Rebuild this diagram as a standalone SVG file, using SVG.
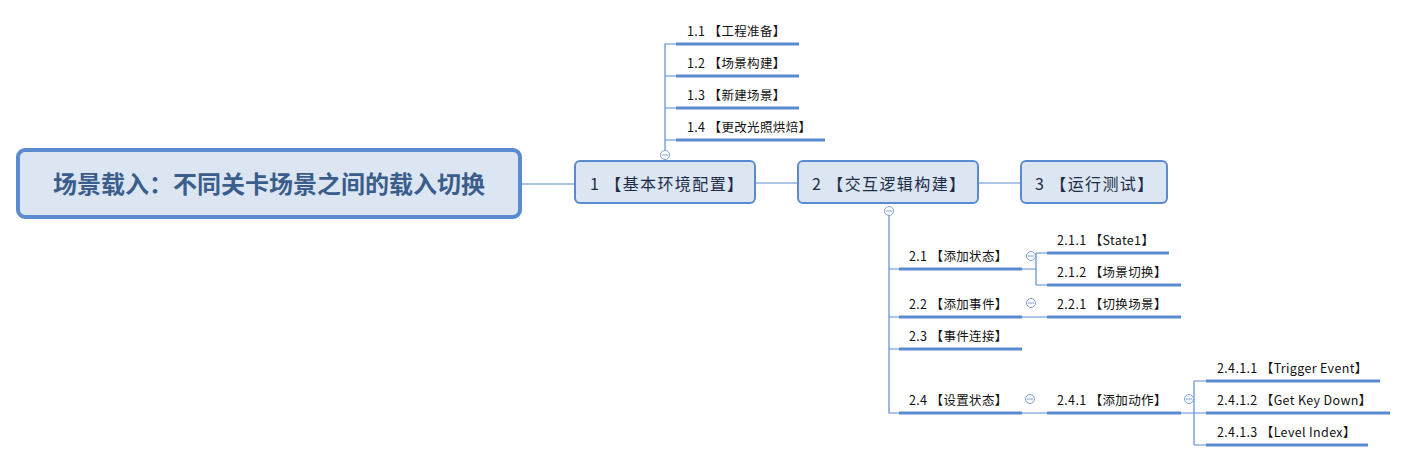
<svg xmlns="http://www.w3.org/2000/svg" width="1405" height="462" viewBox="0 0 1405 462">
<style>
.bg{fill:#ffffff}
.root{fill:#dce6f2;stroke:#5a8bd0;stroke-width:4}
.main{fill:#dce6f2;stroke:#5a8bd0;stroke-width:2}
.rt{font-family:"Noto Sans CJK SC","Microsoft YaHei",sans-serif;font-size:24px;font-weight:bold;fill:#3a5d8c}
.mt{font-family:"Noto Sans CJK SC",sans-serif;font-size:16px;fill:#1e2c48;letter-spacing:1.4px}
.st{font-family:"Noto Sans CJK SC",sans-serif;font-size:12.5px;fill:#111111;letter-spacing:0.35px}
.ln{fill:none;stroke:#5a8bd0;stroke-width:1.2}
.ul{fill:none;stroke:#5a8bd0;stroke-width:3}
.col{fill:#ffffff;stroke:#7aa0da;stroke-width:1}
.colm{stroke:#7aa0da;stroke-width:1}
</style>
<rect class="bg" x="0" y="0" width="1405" height="462"/>
<g id="connectors">
<path class="ln" d="M521 184H575M755 183H798M978 183H1021"/>
<path class="ln" d="M665 150V44H676M665 76H676M665 108H676M665 140H676"/>
<path class="ln" d="M889 216V413H899M889 269H899M889 317H899M889 349H899"/>
<path class="ln" d="M1022 269H1036M1036 253V285M1036 253H1047M1036 285H1047"/>
<path class="ln" d="M1022 317H1047M1022 413H1047"/>
<path class="ln" d="M1181 413H1194M1194 381V445M1194 381H1206M1194 445H1206M1194 413H1206"/>
</g>
<g id="root">
<rect class="root" x="18" y="150" width="502" height="67" rx="7"/>
<text class="rt" x="269" y="193" text-anchor="middle">场景载入：不同关卡场景之间的载入切换</text>
</g>
<g id="n1">
<rect class="main" x="575" y="161" width="180" height="42" rx="5"/>
<text class="mt" x="590" y="190">1 【基本环境配置】</text>
<circle class="col" cx="665" cy="155" r="4.5"/><path class="colm" d="M662 155H668"/>
</g>
<g id="n2">
<rect class="main" x="798" y="161" width="180" height="42" rx="5"/>
<text class="mt" x="812" y="190">2 【交互逻辑构建】</text>
<circle class="col" cx="889" cy="211" r="4.5"/><path class="colm" d="M886 211H892"/>
</g>
<g id="n3">
<rect class="main" x="1021" y="161" width="146" height="42" rx="5"/>
<text class="mt" x="1035" y="190">3 【运行测试】</text>
</g>
<g id="n1-1"><path class="ul" d="M676 44H799"/><text class="st" x="687" y="36">1.1 【工程准备】</text></g>
<g id="n1-2"><path class="ul" d="M676 76H799"/><text class="st" x="687" y="68">1.2 【场景构建】</text></g>
<g id="n1-3"><path class="ul" d="M676 108H799"/><text class="st" x="687" y="100">1.3 【新建场景】</text></g>
<g id="n1-4"><path class="ul" d="M676 140H825"/><text class="st" x="687" y="132">1.4 【更改光照烘焙】</text></g>
<g id="n2-1"><path class="ul" d="M899 269H1022"/><text class="st" x="909" y="261">2.1 【添加状态】</text>
<circle class="col" cx="1031" cy="256" r="4.5"/><path class="colm" d="M1028 256H1034"/></g>
<g id="n2-1-1"><path class="ul" d="M1047 253H1169"/><text class="st" x="1057" y="245">2.1.1 【State1】</text></g>
<g id="n2-1-2"><path class="ul" d="M1047 285H1181"/><text class="st" x="1057" y="277">2.1.2 【场景切换】</text></g>
<g id="n2-2"><path class="ul" d="M899 317H1022"/><text class="st" x="909" y="309">2.2 【添加事件】</text>
<circle class="col" cx="1031" cy="303" r="4.5"/><path class="colm" d="M1028 303H1034"/></g>
<g id="n2-2-1"><path class="ul" d="M1047 317H1181"/><text class="st" x="1057" y="309">2.2.1 【切换场景】</text></g>
<g id="n2-3"><path class="ul" d="M899 349H1022"/><text class="st" x="909" y="341">2.3 【事件连接】</text></g>
<g id="n2-4"><path class="ul" d="M899 413H1022"/><text class="st" x="909" y="405">2.4 【设置状态】</text>
<circle class="col" cx="1030" cy="399" r="4.5"/><path class="colm" d="M1027 399H1033"/></g>
<g id="n2-4-1"><path class="ul" d="M1047 413H1181"/><text class="st" x="1057" y="405">2.4.1 【添加动作】</text>
<circle class="col" cx="1189" cy="399" r="4.5"/><path class="colm" d="M1186 399H1192"/></g>
<g id="n2-4-1-1"><path class="ul" d="M1206 381H1380"/><text class="st" x="1217" y="373">2.4.1.1 【Trigger Event】</text></g>
<g id="n2-4-1-2"><path class="ul" d="M1206 413H1390"/><text class="st" x="1217" y="405">2.4.1.2 【Get Key Down】</text></g>
<g id="n2-4-1-3"><path class="ul" d="M1206 445H1368"/><text class="st" x="1217" y="437">2.4.1.3 【Level Index】</text></g>
</svg>
